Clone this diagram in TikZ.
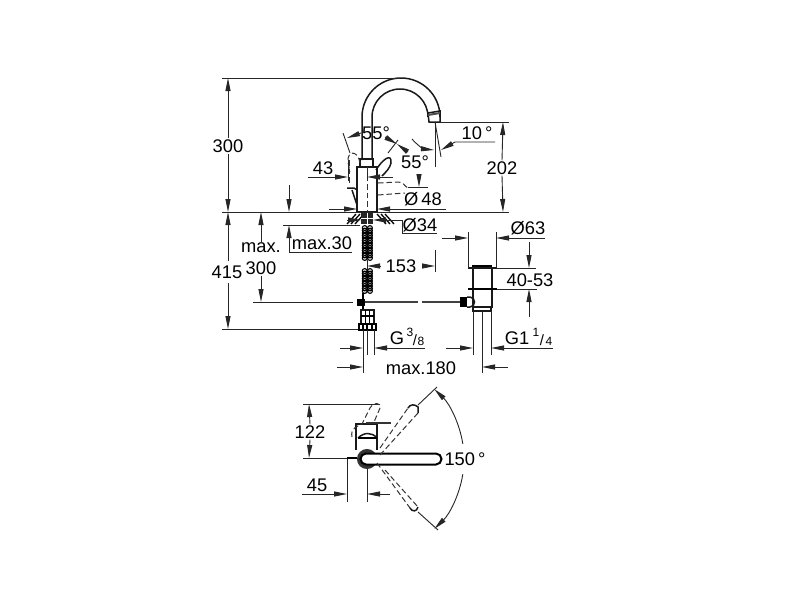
\documentclass[tikz,border=0pt]{standalone}
\usepackage{fontspec}
\setmainfont{Liberation Sans}
\usetikzlibrary{arrows.meta}
\tikzset{
  thin line/.style={line width=0.9pt,black!85},
  part/.style={line width=1.5pt,black!90},
  hidden/.style={line width=1pt,black!80,dash pattern=on 5.5pt off 3pt},
  dim/.style={thin line,-{Triangle[length=13pt,width=5pt]}},
  label/.style={inner sep=1pt,font=\fontsize{18.3}{20}\selectfont},
  small/.style={inner sep=0pt,font=\fontsize{12}{14}\selectfont},
}
\begin{document}
\begin{tikzpicture}[x=1pt,y=-1pt]
\useasboundingbox[fill=white] (0,0) rectangle (800,600);

% spout and body
\draw[part] (362,160)--(362,117) arc (180:360:39) -- (439.5,112);
\draw[part] (372,160)--(372,117) arc (180:360:28) -- (428,112);
\draw[part] (428,113)--(440,111)--(440,122)--(429,122)--cycle;
\draw[line width=2pt,black!70] (428,115)--(440,113);
\draw[part] (360,159) rectangle (373,167);
\draw[part] (357,167) rectangle (377,212);
\draw[hidden] (367,167)--(367,212);
\draw[part] (376,170) .. controls (382,160) and (392,152) .. (391,163) .. controls (390,168) and (386,172) .. (382,176);
\draw[hidden] (360,163) .. controls (358,150) and (347,150) .. (348,162) -- (350,172);
\draw[hidden] (349,160)--(349,183);
\draw[part] (347,188)--(354,188)--(357,190) (352,190)--(357,205);
\draw[hidden] (378,183)--(398,182) .. controls (404,182) and (404,186) .. (408,188);
\draw[hidden] (378,195)--(405,193);

% datum lines
\draw[thin line] (222,78)--(400,78);
\draw[thin line] (222,212)--(509,212);
\draw[thin line] (440,122)--(509,122);
\draw[thin line] (283,225)--(360,225);
\draw[thin line] (253,302)--(353,302);
\draw[thin line] (222,329)--(360,329);

% overall heights
\node[label] (h300) at (228,146) {300};
\draw[dim] (h300.north)--(228,78);
\draw[dim] (h300.south)--(228,212);
\node[label] (h415) at (227,272) {415};
\draw[dim] (228,261)--(228,212);
\draw[dim] (228,283)--(228,329);
\node[label] (hmax) at (261,248) {max.};
\node[label] (hrod) at (261,268) {300};
\draw[dim] (hmax.north)--(261,212);
\draw[dim] (hrod.south)--(261,302);
\draw[dim] (289,185)--(289,212);
\draw[dim] (289,252)--(289,225);
\node[label] (maxthirty) at (322,243) {max.30};
\draw[thin line] (289,252)--(352,252);
\node[label] (h202) at (502,168) {202};
\draw[dim] (h202.north)--(503,122);
\draw[dim] (h202.south)--(503,212);

% lever angles
\draw[thin line] (343,133)--(350,153);
\draw[thin line] (398,140)--(388,153);
\node[label] (angleleft) at (376,133) {55°};
\draw[dim] (angleleft.west)--(347,138);
\draw[dim] (385,137)--(397,144);
\draw[dim] (408,152)--(397,144);
\node[label] (angleright) at (415,162) {55°};

% spout angle
\draw[thin line] (435,122)--(435,167);
\draw[thin line] (435,122)--(441,157);
\node[label] (tenangle) at (477,133) {10\,°};
\draw[dim] (412,139) .. controls (417,145) and (424,149) .. (434,150);
\draw[dim] (495,142)--(455,142)--(441,150);

% body widths
\node[label] (w43) at (323,168) {43};
\draw[thin line] (348,160)--(348,181);
\draw[thin line] (367,172)--(367,181);
\draw[dim] (308,177)--(348,177);
\draw[dim] (393,177)--(367,177);
\node[label] (dia48) at (423,199) {Ø\,48};
\draw[thin line] (408,187)--(428,187);
\draw[dim] (419,174)--(419,187);
\draw[dim] (329,209)--(357,209);
\draw[dim] (446,209)--(377,209);

% base and thread
\foreach \xa in {347,351,355} \draw[line width=1.3pt] (\xa,224)--(\xa+9,214);
\foreach \xa in {377,381,385} \draw[line width=1.3pt] (\xa,214)--(\xa+9,224);
\fill[black!85] (361,213) rectangle (373,224);
\draw[white,line width=0.6pt] (367,213)--(367,224) (361,218)--(373,218);
\foreach \ya in {228,230.5,...,259} {
  \draw[line width=1.1pt] (364.7,\ya) circle (2.4) (370,\ya) circle (2.4);
}
\foreach \ya in {271,273.5,...,292} {
  \draw[line width=1.1pt] (364.7,\ya) circle (2.4) (370,\ya) circle (2.4);
}
\node[label] (dia34) at (420,225) {Ø34};
\draw[thin line] (437,233)--(402,233)--(402,220);
\draw[dim] (402,220)--(373,220);
\draw[dim] (347,220)--(361,220);

% pop-up rod
\draw[line width=2.4pt,black!75] (363,302)--(418,302) (422,302)--(460,302);
\fill[black] (357,298.5) rectangle (365,305.5);
\draw[line width=1.5pt] (363,293)--(363,310);
\fill[black] (460,297) rectangle (467,307);
\draw[part] (467,297)--(470,297) .. controls (476,297) and (476,307) .. (470,307)--(467,307);

% hose connection
\draw[part] (361,310) rectangle (374,324);
\foreach \xa in {365.5,369.5} \draw[line width=1.1pt] (\xa,310)--(\xa,324);
\draw[line width=2pt] (361,316)--(374,316);
\draw[line width=1.4pt] (359,324) rectangle (376,330);
\foreach \xa in {363,367,372} \draw[line width=1.4pt] (\xa,324)--(\xa,330);
\draw[thin line] (363,330)--(363,373);
\draw[thin line] (367,330)--(367,355);
\draw[thin line] (374,330)--(374,355);

% rod reach
\draw[thin line] (367,260)--(367,270);
\node[label] (r153) at (401,266) {153};
\draw[thin line] (435,250)--(435,272);
\draw[dim] (380,266)--(367,266);
\draw[dim] (422,266)--(435,266);

% waste
\draw[part] (473,268)--(473,308) (492,268)--(492,308);
\draw[part] (468,268)--(497,268);
\draw[line width=2.6pt] (472,266)--(492,266);
\draw[line width=2.8pt] (468,289)--(497,289);
\draw[part] (473,307) rectangle (491,311);
\draw[thin line] (473,311)--(473,355) (491,311)--(491,355);
\draw[thin line] (482,311)--(482,373);
\draw[thin line] (468,232)--(468,268) (496,232)--(496,268);
\draw[thin line] (497,268)--(536,268) (497,289)--(537,289);
\node[label] (dia63) at (528,228) {Ø63};
\draw[dim] (442,238)--(468,238);
\draw[dim] (545,238)--(496,238);
\node[label] (h4053) at (530,280) {40-53};
\draw[dim] (529,242)--(529,268);
\draw[dim] (529,317)--(529,289);

% thread labels
\node[label] (gsmall) at (397,338) {G};
\node[small] (gthree) at (410,332) {3};
\node[label,font=\fontsize{15}{16}\selectfont] (gslash) at (415,340) {/};
\node[small] (geight) at (421,341) {8};
\draw[dim] (340,348)--(363,348);
\draw[dim] (425,348)--(374,348);
\node[label] (glarge) at (517,338) {G1};
\node[small] (gone) at (536,332) {1};
\node[label,font=\fontsize{15}{16}\selectfont] (gslashb) at (542,340) {/};
\node[small] (gfour) at (549,341) {4};
\draw[dim] (446,348)--(473,348);
\draw[dim] (553,348)--(491,348);
\node[label] (m180) at (421,368) {max.180};
\draw[dim] (337,367)--(363,367);
\draw[dim] (508,367)--(482,367);

% plan view
\draw[thin line] (303,404)--(380,404);
\draw[thin line] (303,458)--(357,458);
\node[label] (d122) at (310,432) {122};
\draw[dim] (d122.north)--(309,404);
\draw[dim] (d122.south)--(309,458);
\draw[thin line] (347,458)--(347,502) (367,468)--(367,502);
\node[label] (d45) at (317,485) {45};
\draw[dim] (302,494)--(347,494);
\draw[dim] (390,494)--(367,494);
\draw[part] (356,450)--(356,424)--(377,424)--(377,450);
\draw[line width=2.4pt,black!80] (366,423)--(391,423);
\draw[part] (358,438) .. controls (364,432) and (372,432) .. (377,438);
\draw[line width=2pt] (358,438)--(377,438);
\draw[hidden] (352,437) .. controls (350,428) and (358,426) .. (362,424) -- (370,408) .. controls (372,402) and (382,402) .. (380,408) -- (374,422);
\draw[line width=2pt] (347,458)--(357,458);
\draw[line width=4pt,black!80] (367,459) circle (8);
\draw[line width=2pt,fill=white] (366,453.5)--(436,453.5) arc (-90:90:5.5) -- (366,464.5) arc (90:270:5.5) -- cycle;
\draw[hidden] (380,448)--(408,408);
\draw[hidden] (380,455)--(418,413);
\draw[part] (408,408) .. controls (410,404) and (415,404) .. (418,407) -- (418,413);
\draw[hidden] (377,463)--(410,508);
\draw[hidden] (385,470)--(418,507);
\draw[part] (410,508) .. controls (412,512) and (417,512) .. (418,507);
\draw[thin line] (418,405)--(437,387);
\draw[thin line] (418,512)--(438,530);
\node[label] (a150) at (465,459) {150\,°};
\draw[dim] ([shift={(367,459)}]-9:97) arc (-9:-46:97);
\draw[dim] ([shift={(367,459)}]9:97) arc (9:46:97);
\end{tikzpicture}
\end{document}
